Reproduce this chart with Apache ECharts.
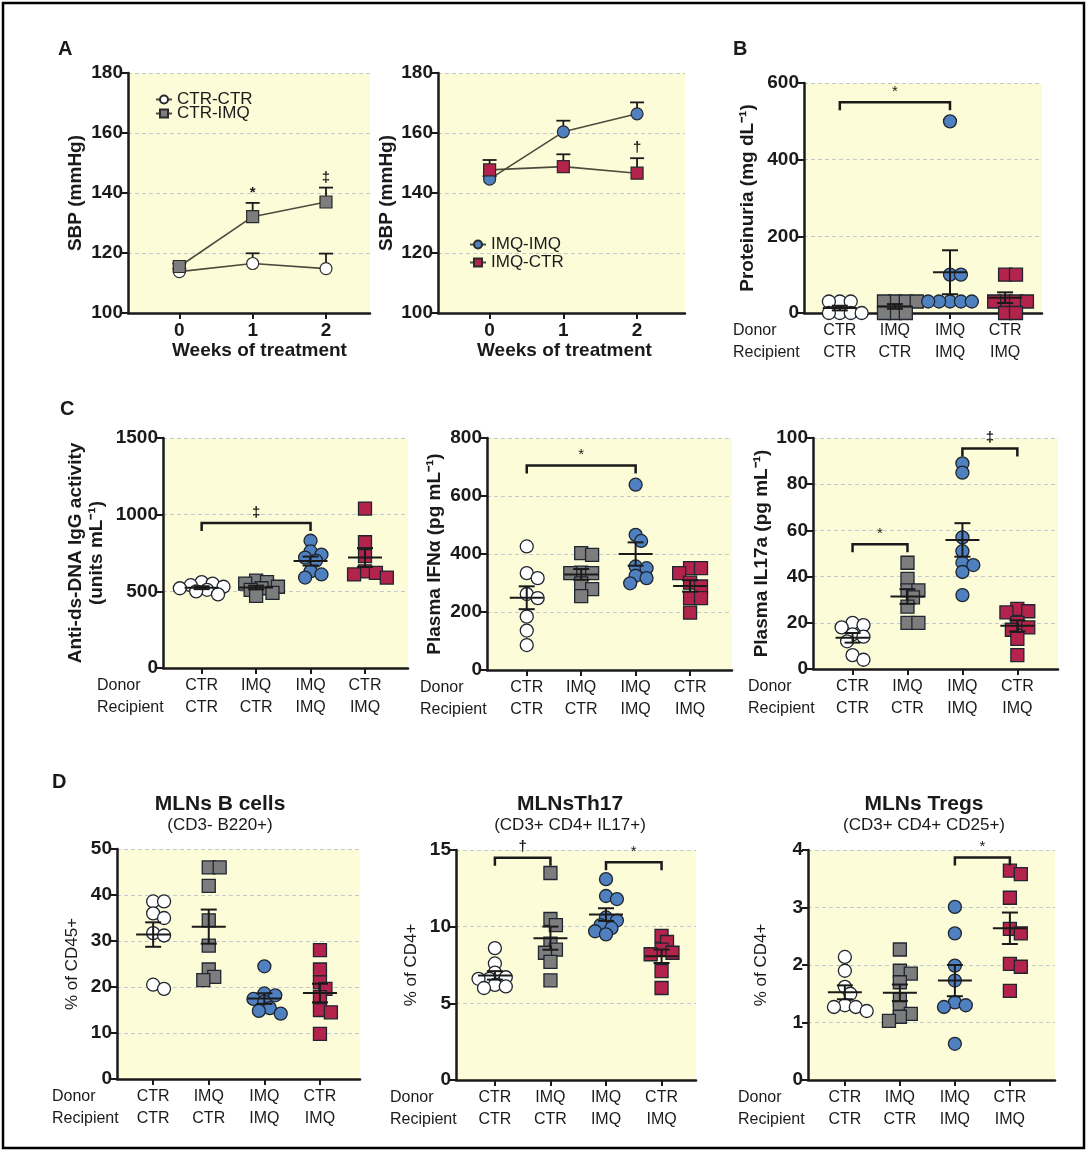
<!DOCTYPE html>
<html>
<head>
<meta charset="utf-8">
<script src="https://cdn.jsdelivr.net/npm/echarts@6/dist/echarts.min.js"></script>
<style>
  html, body { margin: 0; background: #fff; }
  #chart { width: 1088px; height: 1151px; }
</style>
</head>
<body>
<div id="chart"></div>
<script>
// ---- data ----
const weeks = [0, 1, 2]
const sbpCtrCtr = [113.8, 116.5, 114.8]
const sbpCtrCtrSem = [1.0, 3.4, 5.0]
const sbpCtrImq = [115.5, 132.1, 137.0]
const sbpCtrImqSem = [1.0, 4.6, 4.8]
const sbpImqImq = [144.6, 160.4, 166.4]
const sbpImqImqSem = [1.0, 3.7, 3.8]
const sbpImqCtr = [147.7, 148.8, 146.6]
const sbpImqCtrSem = [3.3, 4.1, 5.0]

const donors = ['CTR', 'IMQ', 'IMQ', 'CTR']
const recipients = ['CTR', 'CTR', 'IMQ', 'IMQ']

// B - proteinuria
const protCtrCtr = [30, 30, 30, 0, 0, 0, 0]
const protImqCtr = [30, 30, 30, 30, 0, 0, 0]
const protImqImq = [500, 100, 100, 30, 30, 30, 30, 30]
const protCtrImq = [100, 100, 30, 30, 30, 30, 0, 0]

// C - anti-dsDNA, IFNa, IL17a
const dnaCtrCtr = [560, 550, 540, 530, 520, 510, 500, 480]
const dnaImqCtr = [570, 560, 550, 530, 520, 510, 490, 470]
const dnaImqImq = [830, 760, 740, 720, 700, 630, 610, 590]
const dnaCtrImq = [1040, 820, 730, 630, 620, 610, 590]

const ifnCtrCtr = [426, 334, 317, 262, 248, 184, 136, 86]
const ifnImqCtr = [403, 397, 336, 334, 334, 299, 279, 255]
const ifnImqImq = [639, 466, 445, 357, 351, 325, 317, 299]
const ifnCtrImq = [351, 351, 334, 301, 288, 248, 248, 198]

const il17CtrCtr = [20, 19, 18, 15, 14, 12, 6, 4]
const il17ImqCtr = [46, 39, 34, 34, 31, 27, 20, 20]
const il17ImqImq = [89, 85, 57, 51, 46, 45, 42, 32]
const il17CtrImq = [25, 26, 24.5, 20, 18, 17, 13, 6]

// D - MLN populations
const bCtrCtr = [38.6, 38.6, 36, 35, 31.7, 31.2, 20.5, 19.6]
const bImqCtr = [46, 46, 42, 34.5, 29, 23.8, 22.2, 21.5]
const bImqImq = [24.5, 18.6, 18.2, 17.4, 16.8, 15.4, 14.8, 14.2]
const bCtrImq = [28, 23.8, 21, 19.6, 17.8, 15, 14.5, 9.8]

const th17CtrCtr = [8.6, 7.6, 7.0, 6.7, 6.6, 6.6, 6.2, 6.1, 6.0]
const th17ImqCtr = [13.5, 10.5, 10.1, 8.9, 8.5, 8.3, 7.7, 6.5]
const th17ImqImq = [13.1, 12.0, 11.8, 10.6, 10.4, 10.1, 9.9, 9.7, 9.5]
const th17CtrImq = [9.4, 9.0, 8.5, 8.3, 8.2, 7.1, 6.0]

const tregCtrCtr = [2.14, 1.9, 1.62, 1.5, 1.3, 1.27, 1.27, 1.2]
const tregImqCtr = [2.27, 1.9, 1.85, 1.7, 1.4, 1.25, 1.15, 1.1, 1.03]
const tregImqImq = [3.01, 2.55, 1.99, 1.73, 1.35, 1.3, 1.27, 0.63]
const tregCtrImq = [3.64, 3.58, 3.17, 2.63, 2.55, 2.02, 1.97, 1.55]

// ---- style ----
const FONT = '"Liberation Sans", Arial, sans-serif'
const INK = '#1a1a1a'
const PAPER = '#fdfcd9'
const GRIDLINE = '#c2ccd0'
const groupStyle = [
  { symbol: 'circle', color: '#ffffff' },
  { symbol: 'rect', color: '#7d7d7d' },
  { symbol: 'circle', color: '#4f80c0' },
  { symbol: 'rect', color: '#b3234b' },
]
const PT = 13

const panels = [
  { box: [804, 83, 238, 230], x: [-0.65, 3.67], y: [0, 600, 200], name: 'Proteinuria (mg dL⁻¹)', gap: 46,
    groups: [protCtrCtr, protImqCtr, protImqImq, protCtrImq], brackets: [[0, 2, 550, '*']], rowX: 733 },
  { box: [163, 438, 245, 230], x: [-0.71, 3.79], y: [0, 1500, 500], name: 'Anti-ds-DNA IgG activity\n(units mL⁻¹)', gap: 56,
    groups: [dnaCtrCtr, dnaImqCtr, dnaImqImq, dnaCtrImq], brackets: [[0, 2, 945, '‡']], rowX: 97 },
  { box: [487, 438, 245, 232], x: [-0.73, 3.77], y: [0, 800, 200], name: 'Plasma IFNα (pg mL⁻¹)', gap: 42,
    groups: [ifnCtrCtr, ifnImqCtr, ifnImqImq, ifnCtrImq], brackets: [[0, 2, 705, '*']], rowX: 420 },
  { box: [813, 438, 245, 231], x: [-0.72, 3.74], y: [0, 100, 20], name: 'Plasma IL17a (pg mL⁻¹)', gap: 41,
    groups: [il17CtrCtr, il17ImqCtr, il17ImqImq, il17CtrImq], brackets: [[0, 1, 54, '*'], [2, 3, 95.5, '‡']], rowX: 748 },
  { box: [117, 849, 243, 230], x: [-0.65, 3.72], y: [0, 50, 10], name: '% of CD45+', gap: 34, light: true,
    groups: [bCtrCtr, bImqCtr, bImqImq, bCtrImq], brackets: [], rowX: 52 },
  { box: [456, 850, 240, 230], x: [-0.7, 3.62], y: [0, 15, 5], name: '% of CD4+', gap: 34, light: true,
    groups: [th17CtrCtr, th17ImqCtr, th17ImqImq, th17CtrImq], brackets: [[0, 1, 14.5, '†'], [2, 3, 14.2, '*']], rowX: 390 },
  { box: [808, 850, 247, 230], x: [-0.67, 3.82], y: [0, 4, 1], name: '% of CD4+', gap: 36, light: true,
    groups: [tregCtrCtr, tregImqCtr, tregImqImq, tregCtrImq], brackets: [[2, 3, 3.87, '*']], rowX: 738 },
]

function meanSem(v) {
  const n = v.length
  const m = v.reduce((a, b) => a + b, 0) / n
  const sd = Math.sqrt(v.reduce((a, b) => a + (b - m) * (b - m), 0) / (n - 1))
  return [m, sd / Math.sqrt(n)]
}

// simple beeswarm: spread points that would overlap (some overlap allowed, width capped)
function swarm(values, idx, pxPerX, pxPerY) {
  const order = values.map((v, i) => i).sort((a, b) => values[b] - values[a])
  const placed = []
  const out = []
  const d = PT * 0.62
  const step = PT * 0.42
  for (const i of order) {
    const py = values[i] * pxPerY
    let off = null, best = -1, bestOff = 0
    for (let k = 0; k < 9; k++) {
      const cand = k === 0 ? 0 : (k % 2 ? 1 : -1) * Math.ceil(k / 2) * step
      const minD = placed.reduce((a, p) => Math.min(a, Math.hypot(p[0] - cand, p[1] - py)), Infinity)
      if (minD >= d) { off = cand; break }
      if (minD > best) { best = minD; bestOff = cand }
    }
    if (off === null) off = bestOff
    placed.push([off, py])
    out.push([idx + off / pxPerX, values[i]])
  }
  return out
}

const grid = [], xAxis = [], yAxis = [], series = [], graphic = []

function yAx(gi, y, name, gap, light) {
  return {
    gridIndex: gi, type: 'value', min: y[0], max: y[1], interval: y[2],
    axisLine: { show: true, onZero: false, lineStyle: { color: INK, width: 2.5 } },
    axisTick: { show: true, length: 6, lineStyle: { color: INK, width: 2 } },
    axisLabel: { fontFamily: FONT, fontSize: 19, fontWeight: 'bold', color: INK, margin: 5,
      formatter: v => String(v) },
    splitLine: { show: true, lineStyle: { type: [4, 3], color: GRIDLINE, width: 1 } },
    name, nameLocation: 'middle', nameRotate: 90, nameGap: gap,
    nameTextStyle: { fontFamily: FONT, fontSize: light ? 17 : 19, fontWeight: light ? 'normal' : 'bold', color: INK, lineHeight: 21 },
  }
}

function addGrid(box) {
  grid.push({ left: box[0], top: box[1], width: box[2], height: box[3], show: true,
    backgroundColor: PAPER, borderWidth: 0, containLabel: false })
  return grid.length - 1
}

// ---- panel A: two line charts ----
const aPanels = [
  { box: [128, 73, 242, 240], x: [-0.7, 2.6],
    lines: [['CTR-CTR', sbpCtrCtr, sbpCtrCtrSem, 0], ['CTR-IMQ', sbpCtrImq, sbpCtrImqSem, 1]],
    marks: [[1, 140, '*'], [2, 145, '‡']], gap: 42, title: 267 },
  { box: [438, 73, 247, 240], x: [-0.7, 2.65],
    lines: [['IMQ-IMQ', sbpImqImq, sbpImqImqSem, 2], ['IMQ-CTR', sbpImqCtr, sbpImqCtrSem, 3]],
    marks: [[2, 155, '†']], gap: 38, title: 572 },
]

aPanels.forEach(p => {
  const gi = addGrid(p.box)
  xAxis.push({
    gridIndex: gi, type: 'value', min: p.x[0], max: p.x[1],
    axisLine: { onZero: false, lineStyle: { color: INK, width: 2.5 } },
    axisTick: { customValues: weeks, length: 6, lineStyle: { color: INK, width: 2 } },
    axisLabel: { customValues: weeks, fontFamily: FONT, fontSize: 19, fontWeight: 'bold', color: INK, margin: 8 },
    splitLine: { show: false },
  })
  yAxis.push(yAx(gi, [100, 180, 20], 'SBP (mmHg)', p.gap, false))
  p.lines.forEach(([name, mean, sem, g]) => {
    series.push({
      type: 'custom', xAxisIndex: gi, yAxisIndex: gi, z: 2,
      data: weeks.map((w, i) => [w, mean[i], sem[i]]),
      renderItem: (params, api) => {
        const c = api.coord([api.value(0), api.value(1)])
        const t = api.coord([api.value(0), api.value(1) + api.value(2)])
        const s = { stroke: INK, lineWidth: 1.8 }
        return { type: 'group', children: [
          { type: 'line', shape: { x1: c[0], y1: c[1], x2: t[0], y2: t[1] }, style: s },
          { type: 'line', shape: { x1: t[0] - 7, y1: t[1], x2: t[0] + 7, y2: t[1] }, style: s },
        ] }
      },
    })
    series.push({
      name, type: 'line', xAxisIndex: gi, yAxisIndex: gi, z: 3,
      data: weeks.map((w, i) => [w, mean[i]]),
      symbol: groupStyle[g].symbol, symbolSize: 12,
      lineStyle: { color: '#4b4b3e', width: 1.6 },
      itemStyle: { color: groupStyle[g].color, borderColor: '#2a2a2a', borderWidth: 1.2 },
    })
  })
  series.push({
    type: 'custom', xAxisIndex: gi, yAxisIndex: gi, z: 4,
    data: p.marks.map(m => [m[0], m[1]]),
    renderItem: (params, api) => {
      const c = api.coord([api.value(0), api.value(1)])
      return { type: 'text', style: { text: p.marks[params.dataIndex][2], x: c[0], y: c[1],
        align: 'center', verticalAlign: 'middle', font: 'bold 15px ' + FONT, fill: INK } }
    },
  })
  graphic.push({ type: 'text', left: p.title - 95, top: 341, style: { text: 'Weeks of treatment',
    font: 'bold 19px ' + FONT, fill: INK } })
})

// ---- scatter panels B, C, D ----
panels.forEach(p => {
  const gi = addGrid(p.box)
  const pxPerX = p.box[2] / (p.x[1] - p.x[0])
  const pxPerY = p.box[3] / (p.y[1] - p.y[0])
  xAxis.push({
    gridIndex: gi, type: 'value', min: p.x[0], max: p.x[1],
    axisLine: { onZero: false, lineStyle: { color: INK, width: 2.5 } },
    axisTick: { customValues: [0, 1, 2, 3], length: 6, lineStyle: { color: INK, width: 2 } },
    axisLabel: { customValues: [0, 1, 2, 3], formatter: v => donors[Math.round(v)] + '\n' + recipients[Math.round(v)],
      fontFamily: FONT, fontSize: 16, lineHeight: 22, color: INK, margin: 7 },
    splitLine: { show: false },
  })
  yAxis.push(yAx(gi, p.y, p.name, p.gap, p.light))

  p.groups.forEach((vals, g) => {
    series.push({
      type: 'scatter', xAxisIndex: gi, yAxisIndex: gi, z: 3,
      data: swarm(vals, g, pxPerX, pxPerY),
      symbol: groupStyle[g].symbol, symbolSize: PT,
      itemStyle: { color: groupStyle[g].color, borderColor: '#1f2630', borderWidth: 1.3, opacity: 1 },
    })
  })
  series.push({
    type: 'custom', xAxisIndex: gi, yAxisIndex: gi, z: 4,
    data: p.groups.map((vals, g) => [g, ...meanSem(vals)]),
    renderItem: (params, api) => {
      const x = api.value(0), m = api.value(1), s = api.value(2)
      const c = api.coord([x, m]), t = api.coord([x, m + s]), b = api.coord([x, m - s])
      const st = { stroke: INK, lineWidth: 2 }
      return { type: 'group', children: [
        { type: 'line', shape: { x1: c[0] - 17, y1: c[1], x2: c[0] + 17, y2: c[1] }, style: st },
        { type: 'line', shape: { x1: t[0], y1: t[1], x2: b[0], y2: b[1] }, style: st },
        { type: 'line', shape: { x1: t[0] - 8, y1: t[1], x2: t[0] + 8, y2: t[1] }, style: st },
        { type: 'line', shape: { x1: b[0] - 8, y1: b[1], x2: b[0] + 8, y2: b[1] }, style: st },
      ] }
    },
  })
  if (p.brackets.length) {
    series.push({
      type: 'custom', xAxisIndex: gi, yAxisIndex: gi, z: 5,
      data: p.brackets.map(b => [b[0], b[1], b[2]]),
      renderItem: (params, api) => {
        const a = api.coord([api.value(0), api.value(2)])
        const b = api.coord([api.value(1), api.value(2)])
        const mark = p.brackets[params.dataIndex][3]
        return { type: 'group', children: [
          { type: 'polyline', shape: { points: [[a[0], a[1] + 8], a, b, [b[0], b[1] + 8]] },
            style: { stroke: INK, lineWidth: 2.5, fill: null } },
          { type: 'text', style: { text: mark, x: (a[0] + b[0]) / 2, y: a[1] - 3, align: 'center',
            verticalAlign: 'bottom', font: (mark === '*' ? '' : 'bold ') + '15px ' + FONT, fill: INK } },
        ] }
      },
    })
  }
  const axisY = p.box[1] + p.box[3]
  graphic.push({ type: 'text', left: p.rowX, top: axisY + 7, style: { text: 'Donor\nRecipient',
    font: '16px ' + FONT, lineHeight: 22, fill: INK } })
})

// panel letters, D titles, frame
;[['A', 58, 39], ['B', 733, 39], ['C', 60, 399], ['D', 52, 772]].forEach(([t, x, y]) => {
  graphic.push({ type: 'text', left: x, top: y, style: { text: t, font: 'bold 20px ' + FONT, fill: INK } })
})
;[['MLNs B cells', '(CD3- B220+)', 220], ['MLNsTh17', '(CD3+ CD4+ IL17+)', 570], ['MLNs Tregs', '(CD3+ CD4+ CD25+)', 924]]
  .forEach(([t, s, cx]) => {
    graphic.push({ type: 'text', x: cx, y: 804, style: { text: t, font: 'bold 21px ' + FONT, fill: INK,
      align: 'center', verticalAlign: 'middle' } })
    graphic.push({ type: 'text', x: cx, y: 825, style: { text: s, font: '17px ' + FONT, fill: INK,
      align: 'center', verticalAlign: 'middle' } })
  })
graphic.push({ type: 'rect', shape: { x: 3, y: 3, width: 1081, height: 1145 },
  style: { fill: null, stroke: '#000', lineWidth: 2.5 }, z: 100 })

const legendBase = { orient: 'vertical', selectedMode: false, itemWidth: 16, itemHeight: 10,
  textStyle: { fontFamily: FONT, fontSize: 17, color: INK } }

const myChart = echarts.init(document.getElementById('chart'), null, { renderer: 'canvas' })
const option = {
  backgroundColor: '#ffffff',
  animation: false,
  textStyle: { fontFamily: FONT },
  grid, xAxis, yAxis, series, graphic,
  legend: [
    { ...legendBase, data: ['CTR-CTR', 'CTR-IMQ'], left: 150, top: 86, itemGap: -3 },
    { ...legendBase, data: ['IMQ-IMQ', 'IMQ-CTR'], left: 464, top: 231, itemGap: 1 },
  ],
}
option && myChart.setOption(option)
window.addEventListener('resize', function () {
  myChart.resize()
})
</script>
</body>
</html>
